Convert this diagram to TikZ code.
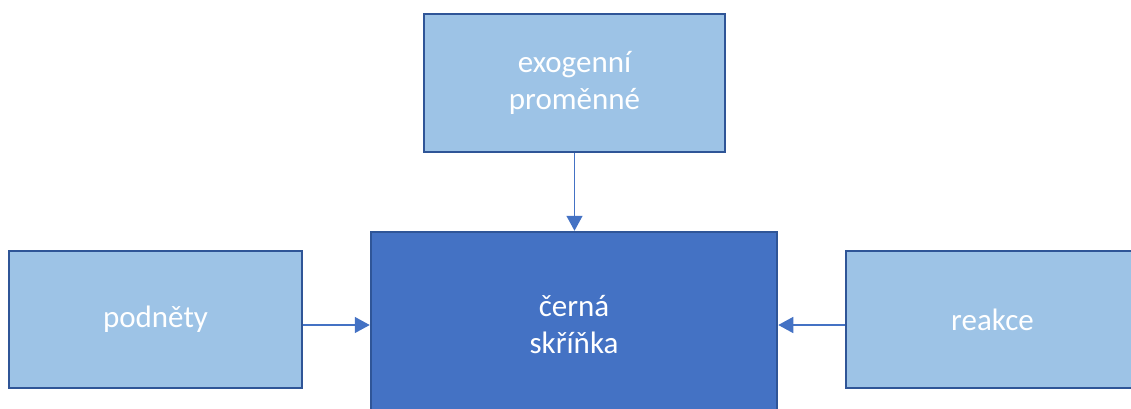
\documentclass[tikz,border=0pt]{standalone}
\usepackage{fontspec}
\setmainfont{Carlito}
\usetikzlibrary{arrows.meta}
\definecolor{lightbox}{HTML}{9DC3E6}
\definecolor{darkbox}{HTML}{4472C4}
\definecolor{edgecol}{HTML}{2F5597}
\begin{document}
\begin{tikzpicture}[x=1pt,y=-1pt,
  box/.style={draw=edgecol, line width=2.5pt, fill=lightbox, text=white,
    font=\fontsize{31}{37}\selectfont, align=center, inner sep=0pt},
  conn/.style={draw=darkbox, line width=1.5pt, -{Triangle[length=15pt,width=16pt]}}]
\useasboundingbox (0,0) rectangle (1131,408);
\clip (0,0) rectangle (1131,408);
\node[box, minimum width=301pt, minimum height=138pt] (exo) at (574.5,83) {exogenní\\proměnné};
\node[box, fill=darkbox, minimum width=406pt, minimum height=186pt] (cb) at (574,325) {černá\\skříňka};
\node[box, minimum width=293pt, minimum height=137pt] (pod) at (155.5,319.5) {podněty};
\node[box, minimum width=293pt, minimum height=137pt] (re) at (992.5,319.5) {reakce};
\draw[conn] (exo.south) -- (exo.south |- cb.north);
\draw[conn] (cb.west -| pod.east) -- (cb.west);
\draw[conn] (cb.east -| re.west) -- (cb.east);
\end{tikzpicture}
\end{document}
